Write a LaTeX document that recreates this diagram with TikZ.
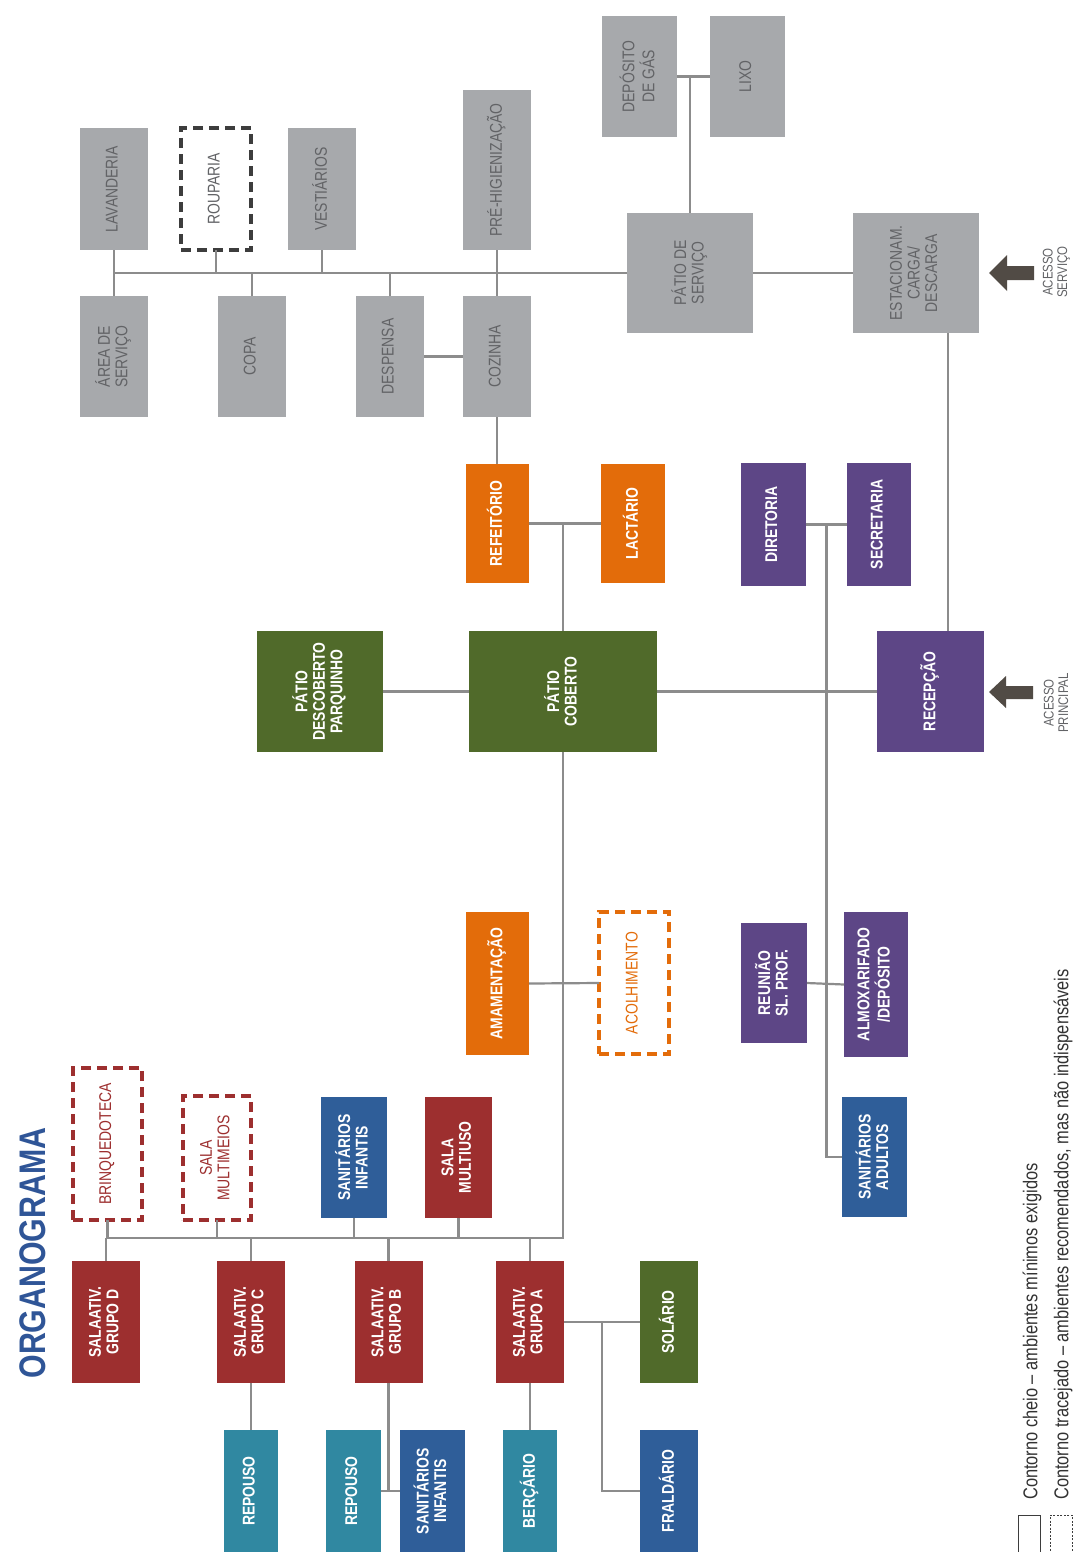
\documentclass[tikz,border=0pt]{standalone}
\usepackage{fontspec}
\setmainfont[FakeStretch=0.82]{Liberation Sans}
\usepackage{graphicx}
\usetikzlibrary{calc}
\definecolor{cgray}{HTML}{A7A9AC}
\definecolor{cgtext}{HTML}{626366}
\definecolor{corange}{HTML}{E36C0A}
\definecolor{cgreen}{HTML}{506A2A}
\definecolor{cpurple}{HTML}{5D4686}
\definecolor{cred}{HTML}{9D2F2F}
\definecolor{cblue}{HTML}{2F5E99}
\definecolor{cteal}{HTML}{3088A1}
\definecolor{ctitle}{HTML}{2F5597}
\definecolor{cline}{HTML}{8C8C8C}
\definecolor{carrow}{HTML}{514B45}
\definecolor{cdark}{HTML}{3D3D3D}
\definecolor{clegtext}{HTML}{333333}
\newcommand{\rtx}[1]{\rotatebox{90}{\begin{tabular}{@{}c@{}}#1\end{tabular}}}
\tikzset{
  base/.style={rectangle, inner sep=0pt, outer sep=0pt, align=center, font=\fontsize{17}{17.5}\selectfont},
  sz/.style 2 args={minimum width=#1pt, minimum height=#2pt},
  gbox/.style={base, fill=cgray, text=cgtext},
  cbox/.style={base, fill=#1, text=white, font=\fontsize{17}{17.5}\selectfont\bfseries},
  dbox/.style 2 args={base, fill=white, draw=#1, line width=3.5pt, dash pattern=on 10pt off 6pt, text=#2},
  conn/.style={draw=cline, line width=2.2pt},
  acc/.style={font=\fontsize{14}{14.5}\selectfont, text=cgtext, inner sep=0pt},
  legtext/.style={rotate=90, anchor=west, inner sep=0pt, font=\fontsize{20}{21}\selectfont, text=clegtext},
}
\begin{document}
\begin{tikzpicture}[x=1pt,y=-1pt]
\fill[white] (0,0) rectangle (1078,1552);
\useasboundingbox (0,0) rectangle (1078,1552);

% ---------- service area (gray) ----------
\node[gbox, sz={68}{122}] (lav) at (114,189) {\rtx{LAVANDERIA}};
\node[dbox={cdark}{cgtext}, sz={70}{122}] (roup) at (216,189) {\rtx{ROUPARIA}};
\node[gbox, sz={68}{122}] (vest) at (322,189) {\rtx{VESTIÁRIOS}};
\node[gbox, sz={68}{160}] (pre) at (497,170) {\rtx{PRÉ-HIGIENIZAÇÃO}};
\node[gbox, sz={75}{121}] (dep) at (639.5,76.5) {\rtx{DEPÓSITO\\DE GÁS}};
\node[gbox, sz={75}{121}] (lixo) at (747.5,76.5) {\rtx{LIXO}};
\node[gbox, sz={126}{120}] (patio) at (690,273) {\rtx{PÁTIO DE\\SERVIÇO}};
\node[gbox, sz={126}{120}] (estac) at (916,273) {\rtx{ESTACIONAM.\\CARGA/\\DESCARGA}};
\node[gbox, sz={68}{121}] (area) at (114,356.5) {\rtx{ÁREA DE\\SERVIÇO}};
\node[gbox, sz={68}{121}] (copa) at (252,356.5) {\rtx{COPA}};
\node[gbox, sz={68}{121}] (desp) at (390,356.5) {\rtx{DESPENSA}};
\node[gbox, sz={68}{121}] (coz) at (497,356.5) {\rtx{COZINHA}};

% ---------- orange ----------
\node[cbox=corange, sz={63}{119}] (ref) at (497,523.5) {\rtx{REFEITÓRIO}};
\node[cbox=corange, sz={64}{119}] (lact) at (633,523.5) {\rtx{LACTÁRIO}};
\node[cbox=corange, sz={63}{143}] (amam) at (497.5,983.5) {\rtx{AMAMENTAÇÃO}};
\node[dbox={corange}{corange}, sz={70}{142}] (acol) at (634,983) {\rtx{ACOLHIMENTO}};

% ---------- green ----------
\node[cbox=cgreen, sz={126}{121}] (pdesc) at (320,691.5) {\rtx{PÁTIO\\DESCOBERTO\\PARQUINHO}};
\node[cbox=cgreen, sz={188}{121}] (pcob) at (563,691.5) {\rtx{PÁTIO\\COBERTO}};
\node[cbox=cgreen, sz={58}{122}] (sol) at (669,1322) {\rtx{SOLÁRIO}};

% ---------- purple ----------
\node[cbox=cpurple, sz={65}{123}] (dir) at (773.5,524.5) {\rtx{DIRETORIA}};
\node[cbox=cpurple, sz={64}{123}] (sec) at (879,524.5) {\rtx{SECRETARIA}};
\node[cbox=cpurple, sz={107}{121}] (recep) at (930.5,691.5) {\rtx{RECEPÇÃO}};
\node[cbox=cpurple, sz={66}{120}] (reun) at (774,983) {\rtx{REUNIÃO\\SL. PROF.}};
\node[cbox=cpurple, sz={64}{145}] (almox) at (876,984.5) {\rtx{ALMOXARIFADO\\/DEPÓSITO}};

% ---------- blue ----------
\node[cbox=cblue, sz={65}{120}] (sanad) at (874.5,1157) {\rtx{SANITÁRIOS\\ADULTOS}};
\node[cbox=cblue, sz={66}{121}] (saninfa) at (354,1157.5) {\rtx{SANITÁRIOS\\INFANTIS}};
\node[cbox=cblue, sz={65}{122}] (saninfb) at (432.5,1491) {\rtx{SANITÁRIOS\\INFANTIS}};
\node[cbox=cblue, sz={58}{122}] (frald) at (669,1491) {\rtx{FRALDÁRIO}};

% ---------- red ----------
\node[dbox={cred}{cred}, sz={69}{152}] (brinq) at (107.5,1144) {\rtx{BRINQUEDOTECA}};
\node[dbox={cred}{cred}, sz={68}{124}] (mmeios) at (217,1158) {\rtx{SALA\\MULTIMEIOS}};
\node[cbox=cred, sz={67}{121}] (muso) at (458.5,1157.5) {\rtx{SALA\\MULTIUSO}};
\node[cbox=cred, sz={68}{122}] (gd) at (106,1322) {\rtx{SALAATIV.\\GRUPO D}};
\node[cbox=cred, sz={68}{122}] (gc) at (251,1322) {\rtx{SALAATIV.\\GRUPO C}};
\node[cbox=cred, sz={68}{122}] (gb) at (388.5,1322) {\rtx{SALAATIV.\\GRUPO B}};
\node[cbox=cred, sz={68}{122}] (ga) at (530,1322) {\rtx{SALAATIV.\\GRUPO A}};

% ---------- teal ----------
\node[cbox=cteal, sz={54}{122}] (repc) at (251,1491) {\rtx{REPOUSO}};
\node[cbox=cteal, sz={55}{122}] (repb) at (353.5,1491) {\rtx{REPOUSO}};
\node[cbox=cteal, sz={54}{122}] (berc) at (530,1491) {\rtx{BERÇÁRIO}};

% ---------- connectors: service ----------
\draw[conn] (lav.south) -- (area.north);
\draw[conn] (lav.south |- patio.west) -- (patio.west);
\draw[conn] (roup.south) -- (roup.south |- patio.west);
\draw[conn] (copa.north) -- (copa.north |- patio.west);
\draw[conn] (vest.south) -- (vest.south |- patio.west);
\draw[conn] (desp.north) -- (desp.north |- patio.west);
\draw[conn] (pre.south) -- (coz.north);
\draw[conn] (desp.east) -- (coz.west);
\draw[conn] (patio.east) -- (estac.west);
\draw[conn] (dep.east) -- (lixo.west);
\draw[conn] (patio.north) -- (patio.north |- dep.east);
\draw[conn] (coz.south) -- (ref.north);

% ---------- connectors: centre ----------
\draw[conn] (ref.east) -- (lact.west);
\draw[conn] (pcob.north) -- (pcob.north |- ref.east);
\draw[conn] (pdesc.east) -- (pcob.west);
\draw[conn] (pcob.east) -- (recep.west);
\draw[conn] ([xshift=32pt]estac.south) -- ([xshift=17.5pt]recep.north);
\draw[conn] (dir.east) -- (sec.west);
\draw[conn] ($(dir.east)!0.5!(sec.west)$) |- (sanad.west);
\draw[conn] (reun.east) -- (almox.west);
\draw[conn] (amam.east) -- (acol.west);

% ---------- connectors: children ----------
\coordinate (busb) at (563,1238);
\draw[conn] (pcob.south) -- (busb) -- (busb -| brinq.south) -- (brinq.south);
\draw[conn] (mmeios.south) -- (mmeios.south |- busb);
\draw[conn] (saninfa.south) -- (saninfa.south |- busb);
\draw[conn] (muso.south) -- (muso.south |- busb);
\draw[conn] (gd.north) -- (gd.north |- busb);
\draw[conn] (gc.north) -- (gc.north |- busb);
\draw[conn] (gb.north) -- (gb.north |- busb);
\draw[conn] (ga.north) -- (ga.north |- busb);
\draw[conn] (gc.south) -- (repc.north);
\draw[conn] (gb.south) -- (gb.south |- repb.east);
\draw[conn] (repb.east) -- (saninfb.west);
\draw[conn] (ga.south) -- (berc.north);
\draw[conn] (ga.east) -- (sol.west);
\draw[conn] ($(ga.east)!0.5!(sol.west)$) |- (frald.west);

% ---------- access arrows ----------
\fill[carrow] (989,273) -- (1007,255) -- (1007,266) -- (1034,266) -- (1034,280) -- (1007,280) -- (1007,291) -- cycle;
\node[acc] (accserv) at (1057,272) {\rtx{ACESSO\\SERVIÇO}};
\fill[carrow] (989,692) -- (1006,676) -- (1006,686) -- (1033,686) -- (1033,699) -- (1006,699) -- (1006,708) -- cycle;
\node[acc] (accprin) at (1058,703) {\rtx{ACESSO\\PRINCIPAL}};

% ---------- title ----------
\node[rotate=90, inner sep=0pt, font=\fontsize{37}{38}\selectfont\bfseries, text=ctitle] (title) at (33,1253) {ORGANOGRAMA};

% ---------- legend ----------
\node[draw=cdark, line width=1pt, sz={22}{38}, inner sep=0pt] (legsolid) at (1029,1534) {};
\node[draw=cdark, line width=1pt, dash pattern=on 2pt off 1.5pt, sz={22}{38}, inner sep=0pt] (legdash) at (1061,1534) {};
\node[legtext] (leg1) at (1032,1500) {Contorno cheio – ambientes mínimos exigidos};
\node[legtext] (leg2) at (1063,1500) {Contorno tracejado – ambientes recomendados, mas não indispensáveis};
\end{tikzpicture}
\end{document}
